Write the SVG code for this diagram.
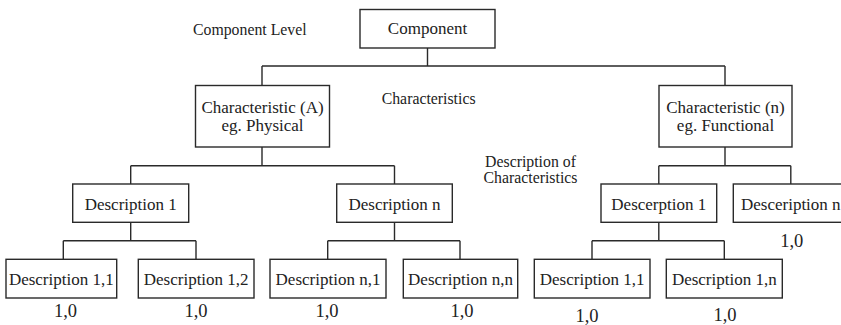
<svg xmlns="http://www.w3.org/2000/svg" width="841" height="325" viewBox="0 0 841 325">
  <style>
    .box { fill: #ffffff; stroke: #2a2a2a; stroke-width: 1.4; }
    .wire { fill: none; stroke: #2a2a2a; stroke-width: 1.4; }
    .t { font-family: "Liberation Serif", "Times New Roman", serif; font-size: 17px; fill: #222; text-anchor: middle; }
    .lbl { font-family: "Liberation Serif", "Times New Roman", serif; font-size: 15.8px; fill: #222; }
    .val { font-family: "Liberation Serif", "Times New Roman", serif; font-size: 18.5px; fill: #222; text-anchor: middle; }
  </style>
  <rect width="841" height="325" fill="#ffffff"/>

  <!-- tree connectors -->
  <g id="connectors" class="wire">
    <path d="M427.5 48 V66 M262 66 H725 M262 66 V85.5 M725 66 V85.5"/>
    <path d="M262 147 V165.7 M130.7 165.7 H394.5 M130.7 165.7 V184 M394.5 165.7 V184"/>
    <path d="M725 147 V165.7 M658.8 165.7 H790.8 M658.8 165.7 V184 M790.8 165.7 V184"/>
    <path d="M130.7 222.3 V240.7 M63.3 240.7 H196 M63.3 240.7 V259.3 M196 240.7 V259.3"/>
    <path d="M394.5 222.3 V240.7 M327.7 240.7 H460 M327.7 240.7 V259.3 M460 240.7 V259.3"/>
    <path d="M658.8 222.3 V240.7 M592 240.7 H724.3 M592 240.7 V259.3 M724.3 240.7 V259.3"/>
  </g>

  <!-- level labels -->
  <g id="labels">
    <text class="lbl" x="193" y="34.5">Component Level</text>
    <text class="lbl" x="381.7" y="104">Characteristics</text>
    <text class="lbl" x="530.5" y="166.5" text-anchor="middle">Description of</text>
    <text class="lbl" x="530.5" y="182.5" text-anchor="middle">Characteristics</text>
  </g>

  <g id="component">
    <rect class="box" x="360" y="9.5" width="135" height="38.5"/>
    <text class="t" x="427.5" y="34">Component</text>
  </g>

  <g id="char-a">
    <rect class="box" x="195.5" y="85.5" width="134" height="61.5"/>
    <text class="t" x="262.5" y="113">Characteristic (A)</text>
    <text class="t" x="262.5" y="130.5">eg. Physical</text>
  </g>

  <g id="char-n">
    <rect class="box" x="659" y="85.5" width="133" height="61.5"/>
    <text class="t" x="725.5" y="113">Characteristic (n)</text>
    <text class="t" x="725.5" y="130.5">eg. Functional</text>
  </g>

  <g id="desc-1">
    <rect class="box" x="72.7" y="184" width="116" height="38.3"/>
    <text class="t" x="130.7" y="209.5">Description 1</text>
  </g>

  <g id="desc-n">
    <rect class="box" x="336.7" y="184" width="115.6" height="38.3"/>
    <text class="t" x="394.5" y="209.5">Description n</text>
  </g>

  <g id="descerption-1">
    <rect class="box" x="601" y="184" width="115.7" height="38.3"/>
    <text class="t" x="658.8" y="209.5">Descerption 1</text>
  </g>

  <g id="desceription-n">
    <rect class="box" x="733.3" y="184" width="115" height="38.3"/>
    <text class="t" x="790.8" y="209.5">Desceription n</text>
    <text class="val" x="791.7" y="246.5">1,0</text>
  </g>

  <g id="desc-1-1">
    <rect class="box" x="6" y="259.3" width="110.7" height="38.7"/>
    <text class="t" x="61.3" y="284.5">Description 1,1</text>
    <text class="val" x="65.5" y="316.5">1,0</text>
  </g>

  <g id="desc-1-2">
    <rect class="box" x="138.3" y="259.3" width="115.7" height="38.7"/>
    <text class="t" x="196.2" y="284.5">Description 1,2</text>
    <text class="val" x="196" y="316.5">1,0</text>
  </g>

  <g id="desc-n-1">
    <rect class="box" x="270" y="259.3" width="116" height="38.7"/>
    <text class="t" x="328" y="284.5">Description n,1</text>
    <text class="val" x="327" y="316.5">1,0</text>
  </g>

  <g id="desc-n-n">
    <rect class="box" x="403.3" y="259.3" width="114.4" height="38.7"/>
    <text class="t" x="460.5" y="284.5">Description n,n</text>
    <text class="val" x="462" y="317">1,0</text>
  </g>

  <g id="desc-r-1-1">
    <rect class="box" x="534.3" y="259.3" width="115.7" height="38.7"/>
    <text class="t" x="592.2" y="284.5">Description 1,1</text>
    <text class="val" x="587" y="321.5">1,0</text>
  </g>

  <g id="desc-r-1-n">
    <rect class="box" x="666.3" y="259.3" width="116" height="38.7"/>
    <text class="t" x="724.3" y="284.5">Description 1,n</text>
    <text class="val" x="725" y="320.5">1,0</text>
  </g>
</svg>
